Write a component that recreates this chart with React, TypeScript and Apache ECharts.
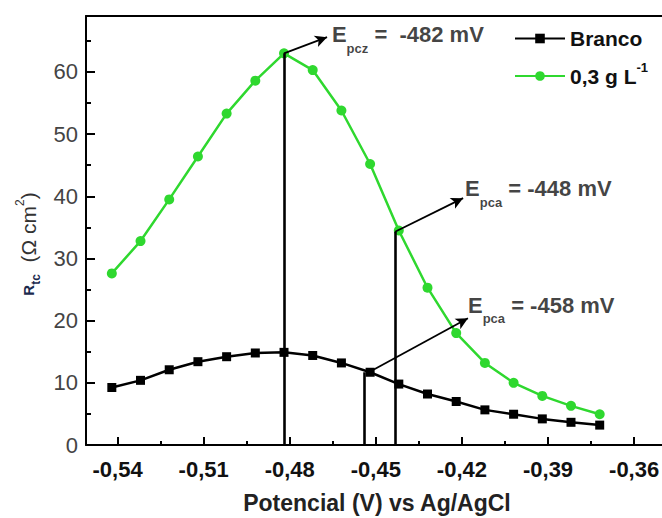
import React, { useEffect, useRef } from "react";
import * as echarts from "echarts";

// Potential (V vs Ag/AgCl)
const potential = [
  -0.542, -0.532, -0.522, -0.512, -0.502, -0.492, -0.482, -0.472, -0.462,
  -0.452, -0.442, -0.432, -0.422, -0.412, -0.402, -0.392, -0.382, -0.372,
];
// Rtc (Ω cm²) – blank
const branco = [
  9.25, 10.4, 12.1, 13.4, 14.2, 14.8, 14.9, 14.4, 13.2, 11.7, 9.8, 8.2, 7.0,
  5.65, 4.95, 4.2, 3.65, 3.2,
];
// Rtc (Ω cm²) – 0,3 g L-1
const inibidor = [
  27.6, 32.8, 39.5, 46.4, 53.3, 58.6, 63.0, 60.3, 53.8, 45.2, 34.5, 25.3, 18.0,
  13.2, 10.0, 7.9, 6.3, 4.95,
];

const xTicks = [-0.54, -0.51, -0.48, -0.45, -0.42, -0.39, -0.36];
const xMinorTicks = [-0.525, -0.495, -0.465, -0.435, -0.405, -0.375];
const yTicks = [0, 10, 20, 30, 40, 50, 60];

// vertical drop lines: [x, top value]
const dropLines: [number, number][] = [
  [-0.482, 63.0],
  [-0.4541, 11.7],
  [-0.4433, 34.3],
];
// arrows: [start, end]
const arrows: [number, number][][] = [
  [[-0.482, 63.0], [-0.467, 65.6]],
  [[-0.4433, 34.3], [-0.4196, 39.7]],
  [[-0.451, 12.06], [-0.4179, 20.4]],
];
// annotation labels: anchor [x, y], subscript, text
const annotationPos: [number, number][] = [
  [-0.4653, 66.0],
  [-0.4189, 41.2],
  [-0.4179, 22.5],
];
const annotationSub = ["pcz", "pca", "pca"];
const annotationText = ["=  -482 mV", "= -448 mV", "= -458 mV"];

const FONT = "'Liberation Sans', Arial, Helvetica, sans-serif";
const GREEN = "#2fd82f";

export default function App() {
  const ref = useRef<HTMLDivElement>(null);
  useEffect(() => {
    if (!ref.current) return;
    const chart = echarts.init(ref.current, undefined, { renderer: "svg" });
    const fmtX = (v: number) => v.toFixed(2).replace(".", ",");
    const xMin = -0.551;
    const xMax = -0.3482;
    const option: any = {
      animation: false,
      backgroundColor: "#fff",
      textStyle: { fontFamily: FONT },
      grid: {
        left: 86,
        right: -6,
        top: 16,
        bottom: 73,
        show: false,
        containLabel: false,
        outerBoundsMode: "none",
      },
      graphic: [
        {
          type: "rect",
          left: 655,
          top: 18,
          z: 100,
          silent: true,
          shape: { width: 10, height: 425 },
          style: { fill: "#fff" },
        },
      ],
      legend: [
        {
          data: ["Branco"],
          left: 509,
          top: 23,
          itemWidth: 50,
          itemHeight: 12,
          itemGap: 0,
          selectedMode: false,
          textStyle: { fontSize: 21, fontWeight: "bold", color: "#111", fontFamily: FONT },
        },
        {
          data: ["0,3 g L-1"],
          left: 509,
          top: 56,
          itemWidth: 50,
          itemHeight: 12,
          selectedMode: false,
          formatter: () => "{t|0,3 g L}{sup|-1}",
          textStyle: {
            fontFamily: FONT,
            rich: {
              t: { fontSize: 21, fontWeight: "bold", color: "#111", lineHeight: 30, fontFamily: FONT },
              sup: { fontSize: 13, fontWeight: "bold", color: "#111", lineHeight: 14, verticalAlign: "top", fontFamily: FONT },
            },
          },
        },
      ],
      xAxis: [
        {
          type: "value",
          min: xMin,
          max: xMax,
          name: "Potencial (V) vs Ag/AgCl",
          nameLocation: "middle",
          nameGap: 46,
          nameTextStyle: { fontSize: 23, fontWeight: "bold", color: "#222", fontFamily: FONT },
          axisLine: { show: true, onZero: false, lineStyle: { color: "#000", width: 2 } },
          axisTick: { show: true, inside: true, length: 8, customValues: xTicks, lineStyle: { color: "#000", width: 2 } },
          axisLabel: { customValues: xTicks, formatter: fmtX, fontSize: 22, fontWeight: "bold", color: "#111", margin: 13, fontFamily: FONT },
          splitLine: { show: false },
        },
        {
          type: "value",
          min: xMin,
          max: xMax,
          position: "bottom",
          axisLine: { show: false },
          axisTick: { show: true, inside: true, length: 4, customValues: xMinorTicks, lineStyle: { color: "#000", width: 2 } },
          axisLabel: { show: false },
          splitLine: { show: false },
        },
        {
          type: "value",
          min: xMin,
          max: xMax,
          position: "top",
          axisLine: { show: true, onZero: false, lineStyle: { color: "#000", width: 2 } },
          axisTick: { show: false },
          axisLabel: { show: false },
          splitLine: { show: false },
        },
      ],
      yAxis: [
        {
          type: "value",
          min: 0,
          max: 69,
          interval: 10,
          position: "left",
          name: "{R|R}{sub|tc}{t|  (Ω cm}{sup|2}{t|)}",
          nameLocation: "middle",
          nameRotate: 90,
          nameGap: 44,
          nameTextStyle: {
            fontFamily: FONT,
            padding: [0, 27, 0, 0],
            rich: {
              R: { fontSize: 15, fontWeight: "bold", color: "#1b2a4e", lineHeight: 28, fontFamily: FONT },
              sub: { fontSize: 12, fontWeight: "bold", color: "#1b2a4e", lineHeight: 14, verticalAlign: "bottom", fontFamily: FONT },
              t: { fontSize: 21, color: "#333", lineHeight: 28, fontFamily: FONT },
              sup: { fontSize: 12, color: "#333", lineHeight: 12, verticalAlign: "top", fontFamily: FONT },
            },
          },
          axisLine: { show: true, onZero: false, lineStyle: { color: "#000", width: 2 } },
          axisTick: { show: true, inside: true, length: 9, customValues: yTicks, lineStyle: { color: "#000", width: 2 } },
          minorTick: { show: true, splitNumber: 2, length: 5, lineStyle: { color: "#000", width: 2 } },
          axisLabel: { customValues: yTicks, fontSize: 22, color: "#444", margin: 8, fontFamily: FONT },
          splitLine: { show: false },
        },
      ],
      series: [
        {
          name: "0,3 g L-1",
          type: "line",
          data: potential.map((x, i) => [x, inibidor[i]]),
          symbol: "circle",
          symbolSize: 10,
          lineStyle: { color: GREEN, width: 2.5 },
          itemStyle: { color: GREEN },
          z: 3,
        },
        {
          name: "Branco",
          type: "line",
          data: potential.map((x, i) => [x, branco[i]]),
          symbol: "rect",
          symbolSize: 9,
          lineStyle: { color: "#000", width: 2.5 },
          itemStyle: { color: "#000" },
          z: 4,
          markLine: {
            silent: true,
            animation: false,
            label: { show: false },
            symbolSize: [9, 12],
            lineStyle: { color: "#000", width: 2.5, type: "solid" },
            emphasis: { disabled: true },
            data: [
              ...dropLines.map(([x, top]) => [
                { coord: [x, 0], symbol: "none", lineStyle: { width: 2.6, color: "#000", type: "solid" } },
                { coord: [x, top], symbol: "none" },
              ]),
              ...arrows.map(([a, b]) => [
                { coord: a, symbol: "none", lineStyle: { width: 1.8, color: "#000", type: "solid" } },
                { coord: b, symbol: "arrow" },
              ]),
            ],
          },
        },
        {
          name: "anotações",
          type: "scatter",
          data: annotationPos.map((p) => p),
          symbolSize: 0,
          silent: true,
          z: 5,
          label: {
            show: true,
            position: "right",
            distance: 0,
            formatter: (p: any) => `{E|E}{s|${annotationSub[p.dataIndex]}}{t| ${annotationText[p.dataIndex]}}`,
            rich: {
              E: { fontSize: 22, fontWeight: "bold", color: "#111", lineHeight: 40, fontFamily: FONT },
              s: { fontSize: 13, fontWeight: "bold", color: "#111", lineHeight: 12, verticalAlign: "bottom", fontFamily: FONT },
              t: { fontSize: 22, fontWeight: "bold", color: "#111", lineHeight: 40, fontFamily: FONT },
            },
          },
        },
      ],
    };
    chart.setOption(option);
    return () => chart.dispose();
  }, []);
  return (
    <div
      ref={ref}
      style={{ position: "absolute", left: 0, top: 0, width: 662, height: 518, background: "#fff" }}
    />
  );
}
